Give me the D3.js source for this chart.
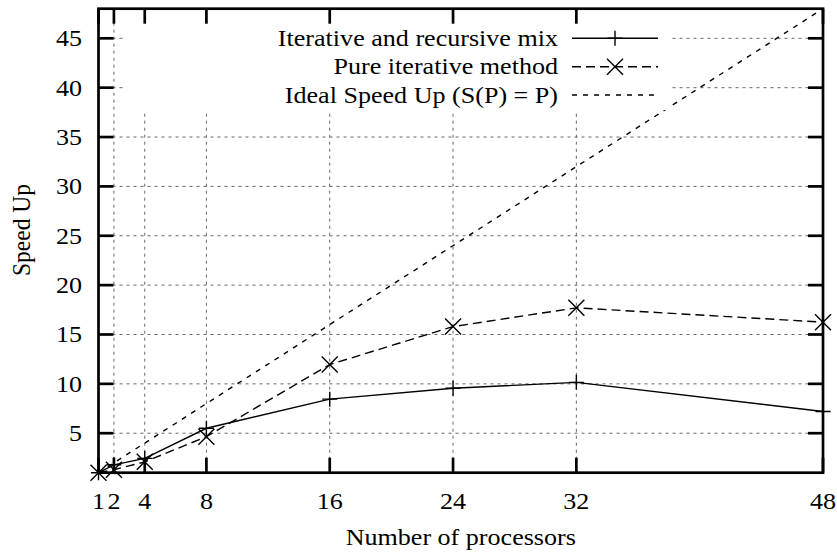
<!DOCTYPE html>
<html>
<head>
<meta charset="utf-8">
<script src="https://cdn.jsdelivr.net/npm/d3@7"></script>
<style>
  body { margin: 0; background: #fff; }
  svg text { font-family: "Liberation Serif", "DejaVu Serif", serif; fill: #000; }
</style>
</head>
<body>
<svg id="chart" width="837" height="552"></svg>
<script>
"use strict";

// data
const processors = [1, 2, 4, 8, 16, 24, 32, 48];
const mixSpeedUp = [1.0, 1.8, 2.45, 5.5, 8.45, 9.55, 10.15, 7.2];
const pureSpeedUp = [1.0, 1.3, 2.1, 4.65, 11.95, 15.8, 17.7, 16.25];
const idealSpeedUp = [1, 48];
const xTicks = [1, 2, 4, 8, 16, 24, 32, 48];
const yTicks = [5, 10, 15, 20, 25, 30, 35, 40, 45];
const legendLabels = ["Iterative and recursive mix", "Pure iterative method", "Ideal Speed Up (S(P) = P)"];

const svg = d3.select("#chart");
const m = {left: 98.5, right: 823, top: 8.7, bottom: 472.7};
const fs = 23.5;
const sx = 1.11; // the reference font runs a bit wide

let x = d3.scaleLinear().domain([1, 48]).range([m.left, m.right]);
let y = d3.scaleLinear().domain([1, 48]).range([m.bottom, m.top]);

// text placed at (tx,ty) and stretched sideways
function label(tx, ty, str, anchor, dy, rot) {
  let g = svg.append("g").attr("transform", `translate(${tx},${ty}) scale(${sx},1)` + (rot ? ` rotate(${rot})` : ""));
  return g.append("text").attr("text-anchor", anchor).attr("dy", dy || 0).attr("font-size", fs).text(str);
}

// grid
let grid = svg.append("g").attr("stroke", "#666").attr("stroke-width", 1).attr("stroke-dasharray", "3,4");
xTicks.forEach(t => grid.append("line").attr("x1", x(t)).attr("x2", x(t)).attr("y1", m.top).attr("y2", m.bottom));
yTicks.forEach(t => grid.append("line").attr("x1", m.left).attr("x2", m.right).attr("y1", y(t)).attr("y2", y(t)));

let line = d3.line().x(d => x(d[0])).y(d => y(d[1]));

// series
svg.append("path").attr("d", line(idealSpeedUp.map(v => [v, v])))
  .attr("fill", "none").attr("stroke", "#000").attr("stroke-width", 1.4).attr("stroke-dasharray", "5,6");
svg.append("path").attr("d", line(processors.map((p, i) => [p, pureSpeedUp[i]])))
  .attr("fill", "none").attr("stroke", "#000").attr("stroke-width", 1.4).attr("stroke-dasharray", "9,5");
svg.append("path").attr("d", line(processors.map((p, i) => [p, mixSpeedUp[i]])))
  .attr("fill", "none").attr("stroke", "#000").attr("stroke-width", 1.4);

function plus(g, cx, cy) {
  let s = 7.5;
  g.append("path").attr("d", `M${cx - s},${cy}H${cx + s}M${cx},${cy - s}V${cy + s}`)
    .attr("stroke", "#000").attr("stroke-width", 1.4).attr("fill", "none");
}
function cross(g, cx, cy) {
  let s = 8;
  g.append("path").attr("d", `M${cx - s},${cy - s}L${cx + s},${cy + s}M${cx - s},${cy + s}L${cx + s},${cy - s}`)
    .attr("stroke", "#000").attr("stroke-width", 1.4).attr("fill", "none");
}

let marks = svg.append("g");
processors.forEach((p, i) => {
  plus(marks, x(p), y(mixSpeedUp[i]));
  cross(marks, x(p), y(pureSpeedUp[i]));
});

// opaque key
let key = svg.append("g");
key.append("rect").attr("x", 124).attr("y", m.top + 1.5).attr("width", 547).attr("height", 100).attr("fill", "#fff");
let rowY = [38.3, 66.7, 95];
let dashes = [null, "9,5", "5,6"];
legendLabels.forEach((lab, i) => {
  label(558, rowY[i], lab, "end", "0.33em");
  key.append("line").attr("x1", 572).attr("x2", 658).attr("y1", rowY[i]).attr("y2", rowY[i])
    .attr("stroke", "#000").attr("stroke-width", 1.4).attr("stroke-dasharray", dashes[i]);
});
plus(key, 615, rowY[0]);
cross(key, 615, rowY[1]);

// border and ticks
let ax = svg.append("g").attr("stroke", "#000").attr("stroke-width", 2.7);
ax.append("rect").attr("x", m.left).attr("y", m.top).attr("width", m.right - m.left).attr("height", m.bottom - m.top).attr("fill", "none");
let tl = 15;
xTicks.forEach(t => {
  ax.append("line").attr("x1", x(t)).attr("x2", x(t)).attr("y1", m.bottom).attr("y2", m.bottom - tl);
  ax.append("line").attr("x1", x(t)).attr("x2", x(t)).attr("y1", m.top).attr("y2", m.top + tl);
});
yTicks.forEach(t => {
  ax.append("line").attr("x1", m.left).attr("x2", m.left + tl).attr("y1", y(t)).attr("y2", y(t));
  ax.append("line").attr("x1", m.right).attr("x2", m.right - tl).attr("y1", y(t)).attr("y2", y(t));
});

// tick labels
xTicks.forEach(t => label(x(t), 508.5, t, "middle"));
yTicks.forEach(t => label(82, y(t), t, "end", "0.34em"));

// axis titles
label((m.left + m.right) / 2, 545, "Number of processors", "middle");
label(30, 230, "Speed Up", "middle", 0, -90);
</script>
</body>
</html>
